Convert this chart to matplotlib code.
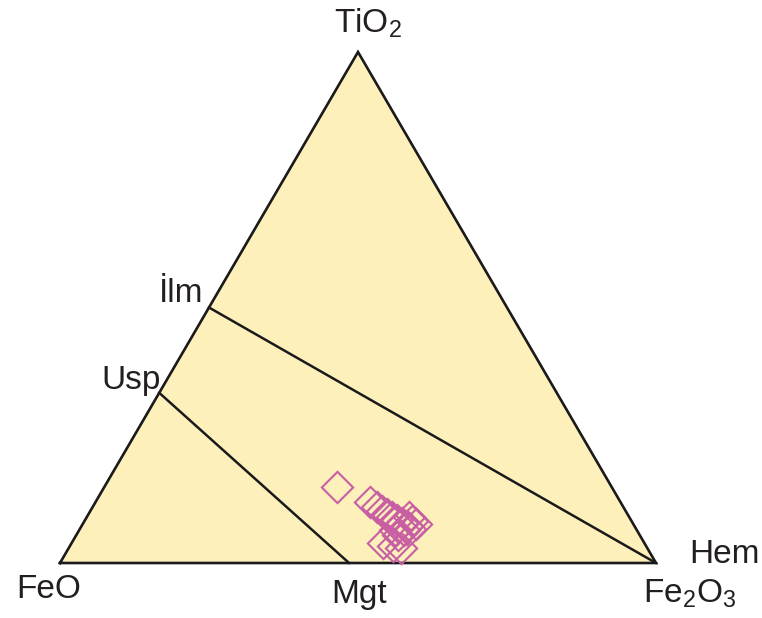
import numpy as np
import matplotlib
matplotlib.use("Agg")
import matplotlib.pyplot as plt

plt.rcParams["font.family"] = ["Liberation Sans", "DejaVu Sans"]
plt.rcParams["mathtext.fontset"] = "custom"
plt.rcParams["mathtext.rm"] = "Liberation Sans"
plt.rcParams["mathtext.default"] = "regular"

# Sample compositions (mole fractions, %)
tio2 = [14.9, 11.9, 11.0, 10.2, 9.6, 9.0, 8.4, 7.8, 7.2, 8.2,
        7.6, 9.0, 6.5, 5.5, 3.9, 3.3, 2.9, 6.7, 6.5]
feo = [46.1, 42.0, 41.3, 40.9, 40.3, 39.8, 39.3, 38.7, 38.2, 36.8,
       36.5, 36.9, 39.1, 40.6, 43.9, 42.5, 41.3, 38.0, 40.6]
fe2o3 = [39.0, 46.1, 47.7, 48.9, 50.1, 51.2, 52.3, 53.5, 54.6, 55.0,
         55.9, 54.1, 54.4, 53.9, 52.2, 54.2, 55.8, 55.3, 52.9]

# Reference minerals on the ternary (TiO2, FeO, Fe2O3)
minerals = {
    "Ilm": (50.0, 50.0, 0.0),
    "Usp": (33.3, 66.7, 0.0),
    "Mgt": (0.0, 51.5, 48.5),
    "Hem": (0.0, 0.0, 100.0),
}

H = np.sqrt(3) / 2


def to_xy(t, f, h):
    t = np.asarray(t, float)
    f = np.asarray(f, float)
    h = np.asarray(h, float)
    s = t + f + h
    t, h = t / s, h / s
    return h + t / 2, t * H


fig = plt.figure(figsize=(7.62, 6.18), dpi=100)
ax = fig.add_axes([0, 0, 1, 1])
ax.set_xlim(-60 / 596, 702 / 596)
ax.set_ylim(-55 * H / 511, 563 * H / 511)
ax.axis("off")

# Triangle outline and fill
vx, vy = to_xy([0, 0, 100], [100, 0, 0], [0, 100, 0])
ax.fill(vx, vy, color="#fdf0bb", zorder=0)
ax.plot(np.append(vx, vx[0]), np.append(vy, vy[0]), color="#1a1a1a",
        lw=1.9, solid_joinstyle="miter", zorder=3)

# Tie lines Ilm-Hem and Usp-Mgt
for a, b in [("Ilm", "Hem"), ("Usp", "Mgt")]:
    x, y = to_xy(*zip(minerals[a], minerals[b]))
    ax.plot(x, y, color="#1a1a1a", lw=1.8, zorder=2)

# Samples
sx, sy = to_xy(tio2, feo, fe2o3)
ax.plot(sx, sy, linestyle="none", marker=(4, 0, 0), ms=22.5,
        mfc="none", mec="#c85fa3", mew=1.5, zorder=4)

fs = 24


def label(text, pt, dx, dy, ha="center"):
    ax.annotate(text, xy=pt, xytext=(dx, dy), textcoords="offset pixels",
                ha=ha, va="baseline", fontsize=fs, color="#231f20")


label(r"TiO$_2$", to_xy(100, 0, 0), 10, 19)
label("FeO", to_xy(0, 100, 0), -11, -35)
label(r"Fe$_2$O$_3$", to_xy(0, 0, 100), 34, -40)
label("Hem", to_xy(*minerals["Hem"]), 68, 0)
label("Mgt", to_xy(*minerals["Mgt"]), 10, -40)
label("İlm", to_xy(*minerals["Ilm"]), -6, 5, ha="right")
label("Usp", to_xy(*minerals["Usp"]), 2, 4, ha="right")

fig.savefig("out.png", dpi=100, facecolor="white")
